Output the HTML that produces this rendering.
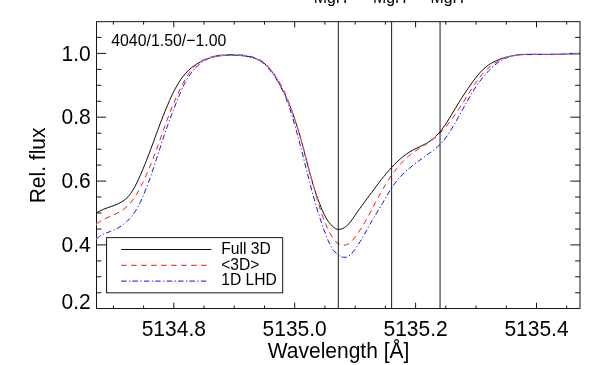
<!DOCTYPE html>
<html><head><meta charset="utf-8"><title>plot</title>
<style>
html,body{margin:0;padding:0;background:#fff;}
body{width:598px;height:365px;overflow:hidden;}
svg{display:block;will-change:transform;}
text{font-family:"Liberation Sans",sans-serif;fill:#000;}
</style></head><body>
<svg width="598" height="365" viewBox="0 0 598 365">
<rect x="0" y="0" width="598" height="365" fill="#fff"/>
<g fill="none" stroke="#000" stroke-width="0.92">
<path d="M173.8 308.4 v-5.7 M173.8 21.7 v5.7M294.7 308.4 v-5.7 M294.7 21.7 v5.7M415.6 308.4 v-5.7 M415.6 21.7 v5.7M536.5 308.4 v-5.7 M536.5 21.7 v5.7M113.4 308.4 v-2.9 M113.4 21.7 v2.9M143.6 308.4 v-2.9 M143.6 21.7 v2.9M204.0 308.4 v-2.9 M204.0 21.7 v2.9M234.2 308.4 v-2.9 M234.2 21.7 v2.9M264.5 308.4 v-2.9 M264.5 21.7 v2.9M324.9 308.4 v-2.9 M324.9 21.7 v2.9M355.2 308.4 v-2.9 M355.2 21.7 v2.9M385.4 308.4 v-2.9 M385.4 21.7 v2.9M445.8 308.4 v-2.9 M445.8 21.7 v2.9M476.1 308.4 v-2.9 M476.1 21.7 v2.9M506.3 308.4 v-2.9 M506.3 21.7 v2.9M566.7 308.4 v-2.9 M566.7 21.7 v2.9M96.5 53.4 h9.7 M580.0 53.4 h-9.7M96.5 117.2 h9.7 M580.0 117.2 h-9.7M96.5 181.1 h9.7 M580.0 181.1 h-9.7M96.5 244.9 h9.7 M580.0 244.9 h-9.7M96.5 37.4 h4.9 M580.0 37.4 h-4.9M96.5 69.4 h4.9 M580.0 69.4 h-4.9M96.5 85.3 h4.9 M580.0 85.3 h-4.9M96.5 101.3 h4.9 M580.0 101.3 h-4.9M96.5 133.2 h4.9 M580.0 133.2 h-4.9M96.5 149.2 h4.9 M580.0 149.2 h-4.9M96.5 165.1 h4.9 M580.0 165.1 h-4.9M96.5 197.0 h4.9 M580.0 197.0 h-4.9M96.5 213.0 h4.9 M580.0 213.0 h-4.9M96.5 229.0 h4.9 M580.0 229.0 h-4.9M96.5 260.9 h4.9 M580.0 260.9 h-4.9M96.5 276.8 h4.9 M580.0 276.8 h-4.9M96.5 292.8 h4.9 M580.0 292.8 h-4.9"/>
<rect x="96.5" y="21.7" width="483.5" height="286.8"/>
</g>
<g fill="none" stroke-width="0.95">
<path stroke="#000" d="M96.5 212.8C97.1 212.5 98.8 211.4 100.0 210.9C101.2 210.3 102.5 209.7 103.7 209.2C104.9 208.7 106.2 208.3 107.4 207.8C108.7 207.4 110.0 206.9 111.2 206.5C112.5 206.0 113.8 205.6 115.0 205.1C116.2 204.6 117.5 204.1 118.7 203.5C119.9 202.9 121.1 202.3 122.2 201.6C123.4 200.9 124.5 200.1 125.5 199.2C126.5 198.4 127.5 197.4 128.3 196.4C129.2 195.4 130.0 194.3 130.8 193.3C131.6 192.2 132.3 191.0 133.0 189.9C133.7 188.7 134.3 187.6 135.0 186.4C135.6 185.2 136.2 184.0 136.8 182.8C137.4 181.6 137.9 180.4 138.5 179.2C139.1 177.9 139.6 176.7 140.2 175.5C140.7 174.3 141.3 173.0 141.8 171.8C142.3 170.6 142.8 169.4 143.4 168.1C143.9 166.9 144.4 165.6 144.9 164.4C145.4 163.2 145.9 161.9 146.4 160.7C146.9 159.4 147.4 158.2 147.8 156.9C148.3 155.7 148.8 154.4 149.3 153.2C149.7 151.9 150.2 150.7 150.7 149.4C151.1 148.2 151.6 146.9 152.1 145.6C152.5 144.4 153.0 143.1 153.5 141.9C153.9 140.6 154.4 139.4 154.8 138.1C155.3 136.8 155.8 135.6 156.2 134.3C156.7 133.1 157.2 131.8 157.6 130.6C158.1 129.3 158.6 128.0 159.0 126.8C159.5 125.5 160.0 124.3 160.4 123.0C160.9 121.8 161.4 120.5 161.9 119.3C162.4 118.0 162.8 116.8 163.3 115.5C163.8 114.3 164.3 113.0 164.8 111.8C165.3 110.6 165.8 109.3 166.3 108.1C166.9 106.8 167.4 105.6 167.9 104.4C168.4 103.1 169.0 101.9 169.5 100.7C170.0 99.5 170.6 98.2 171.1 97.0C171.7 95.8 172.3 94.6 172.8 93.4C173.4 92.2 174.0 91.0 174.6 89.8C175.3 88.6 175.9 87.4 176.6 86.3C177.2 85.1 177.9 83.9 178.6 82.8C179.3 81.7 180.0 80.5 180.8 79.4C181.6 78.3 182.4 77.3 183.2 76.2C184.0 75.2 184.9 74.1 185.8 73.2C186.7 72.2 187.6 71.2 188.6 70.3C189.6 69.4 190.6 68.5 191.6 67.6C192.7 66.8 193.8 66.0 194.9 65.2C196.0 64.5 197.1 63.8 198.2 63.1C199.4 62.4 200.6 61.8 201.8 61.2C203.0 60.6 204.2 60.0 205.4 59.5C206.7 59.0 207.9 58.6 209.2 58.2C210.5 57.7 211.8 57.4 213.1 57.1C214.4 56.8 215.7 56.5 217.0 56.3C218.3 56.0 219.7 55.9 221.0 55.7C222.3 55.6 223.7 55.4 225.0 55.4C226.3 55.3 227.7 55.2 229.0 55.2C230.4 55.2 231.7 55.2 233.0 55.2C234.4 55.2 235.7 55.3 237.1 55.3C238.4 55.4 239.7 55.5 241.1 55.6C242.4 55.7 243.7 55.8 245.1 56.0C246.4 56.2 247.7 56.4 249.0 56.7C250.3 57.0 251.6 57.3 252.9 57.7C254.2 58.1 255.5 58.5 256.7 59.0C257.9 59.5 259.2 60.1 260.3 60.7C261.5 61.4 262.6 62.1 263.7 62.9C264.8 63.7 265.8 64.6 266.7 65.5C267.7 66.5 268.6 67.5 269.5 68.5C270.4 69.5 271.2 70.5 272.0 71.6C272.8 72.7 273.5 73.8 274.3 74.9C275.0 76.0 275.7 77.2 276.4 78.3C277.1 79.5 277.8 80.6 278.4 81.8C279.1 83.0 279.7 84.2 280.3 85.3C281.0 86.5 281.6 87.7 282.2 88.9C282.8 90.1 283.4 91.3 284.0 92.5C284.6 93.7 285.1 94.9 285.7 96.1C286.2 97.4 286.8 98.6 287.3 99.8C287.8 101.0 288.4 102.3 288.9 103.5C289.4 104.8 289.9 106.0 290.4 107.2C290.9 108.5 291.4 109.7 291.8 111.0C292.3 112.2 292.8 113.5 293.2 114.8C293.7 116.0 294.1 117.3 294.5 118.6C295.0 119.8 295.4 121.1 295.8 122.4C296.2 123.6 296.6 124.9 297.0 126.2C297.4 127.5 297.8 128.8 298.2 130.0C298.6 131.3 299.0 132.6 299.4 133.9C299.7 135.2 300.1 136.5 300.5 137.8C300.8 139.0 301.2 140.3 301.5 141.6C301.9 142.9 302.2 144.2 302.6 145.5C302.9 146.8 303.3 148.1 303.6 149.4C304.0 150.7 304.3 152.0 304.6 153.3C305.0 154.6 305.3 155.9 305.6 157.2C306.0 158.5 306.3 159.8 306.6 161.1C307.0 162.4 307.3 163.7 307.7 164.9C308.0 166.2 308.3 167.5 308.7 168.8C309.0 170.1 309.4 171.4 309.7 172.7C310.1 174.0 310.4 175.3 310.8 176.6C311.1 177.9 311.5 179.2 311.9 180.5C312.2 181.7 312.6 183.0 313.0 184.3C313.4 185.6 313.8 186.9 314.2 188.2C314.6 189.4 315.0 190.7 315.4 192.0C315.8 193.3 316.3 194.5 316.7 195.8C317.1 197.1 317.6 198.3 318.0 199.6C318.5 200.8 319.0 202.1 319.5 203.3C319.9 204.6 320.4 205.8 320.9 207.1C321.5 208.3 322.0 209.5 322.5 210.8C323.1 212.0 323.6 213.2 324.2 214.4C324.8 215.6 325.4 216.8 326.1 218.0C326.7 219.1 327.5 220.3 328.2 221.3C329.0 222.4 329.8 223.5 330.8 224.5C331.7 225.5 332.6 226.5 333.6 227.3C334.7 228.1 335.9 229.0 337.1 229.3C338.3 229.6 339.8 229.5 341.0 229.1C342.3 228.8 343.5 228.1 344.7 227.4C345.8 226.7 346.8 225.8 347.8 224.9C348.7 224.0 349.6 222.9 350.4 221.9C351.3 220.9 352.0 219.7 352.8 218.7C353.6 217.6 354.3 216.4 355.1 215.3C355.8 214.2 356.6 213.1 357.3 212.0C358.1 210.9 358.9 209.8 359.7 208.7C360.4 207.6 361.2 206.6 362.0 205.5C362.8 204.4 363.6 203.3 364.4 202.3C365.2 201.2 366.0 200.1 366.8 199.0C367.6 198.0 368.4 196.9 369.2 195.8C370.0 194.7 370.8 193.6 371.6 192.6C372.4 191.5 373.2 190.4 374.0 189.3C374.8 188.2 375.6 187.2 376.4 186.1C377.2 185.0 378.0 184.0 378.8 182.9C379.6 181.8 380.4 180.8 381.2 179.7C382.1 178.7 382.9 177.6 383.8 176.6C384.6 175.5 385.4 174.5 386.3 173.5C387.2 172.4 388.0 171.4 388.9 170.4C389.8 169.4 390.7 168.4 391.6 167.4C392.5 166.4 393.4 165.5 394.4 164.5C395.3 163.6 396.2 162.6 397.2 161.7C398.2 160.8 399.2 159.9 400.2 159.0C401.2 158.1 402.2 157.2 403.3 156.4C404.3 155.6 405.4 154.8 406.5 154.0C407.6 153.2 408.7 152.5 409.9 151.8C411.0 151.1 412.2 150.5 413.4 149.8C414.5 149.2 415.8 148.6 417.0 148.0C418.2 147.5 419.4 146.9 420.6 146.3C421.8 145.7 423.0 145.2 424.2 144.5C425.4 143.9 426.6 143.3 427.7 142.6C428.8 141.9 430.0 141.1 431.0 140.4C432.1 139.6 433.2 138.7 434.2 137.8C435.2 136.9 436.1 136.0 437.1 135.0C438.0 134.1 438.9 133.1 439.7 132.1C440.6 131.0 441.4 130.0 442.3 128.9C443.1 127.9 443.9 126.8 444.6 125.7C445.4 124.6 446.1 123.5 446.9 122.3C447.6 121.2 448.3 120.1 449.0 118.9C449.7 117.8 450.4 116.6 451.1 115.5C451.8 114.3 452.4 113.2 453.1 112.0C453.8 110.9 454.5 109.7 455.2 108.6C455.9 107.4 456.6 106.3 457.3 105.1C457.9 104.0 458.7 102.9 459.4 101.7C460.1 100.6 460.8 99.4 461.5 98.3C462.2 97.2 462.9 96.1 463.7 94.9C464.4 93.8 465.1 92.7 465.9 91.6C466.6 90.5 467.4 89.4 468.2 88.3C468.9 87.2 469.7 86.1 470.5 85.0C471.2 83.9 472.0 82.8 472.8 81.7C473.6 80.6 474.4 79.5 475.2 78.5C476.0 77.4 476.8 76.3 477.7 75.3C478.5 74.3 479.4 73.3 480.3 72.3C481.2 71.3 482.1 70.3 483.1 69.4C484.1 68.5 485.1 67.6 486.2 66.8C487.2 66.0 488.3 65.2 489.4 64.4C490.5 63.7 491.7 63.0 492.9 62.4C494.0 61.7 495.2 61.1 496.5 60.6C497.7 60.0 498.9 59.5 500.2 59.1C501.4 58.6 502.7 58.2 504.0 57.8C505.3 57.4 506.6 57.0 507.9 56.7C509.2 56.4 510.5 56.1 511.8 55.9C513.1 55.6 514.4 55.4 515.8 55.3C517.1 55.1 518.4 54.9 519.7 54.8C521.1 54.7 522.4 54.6 523.8 54.5C525.1 54.5 526.4 54.4 527.8 54.4C529.1 54.3 530.4 54.3 531.8 54.3C533.1 54.3 534.5 54.3 535.8 54.3C537.1 54.3 538.5 54.3 539.8 54.4C541.2 54.4 542.5 54.4 543.8 54.4C545.2 54.4 546.5 54.4 547.9 54.4C549.2 54.4 550.5 54.4 551.9 54.4C553.2 54.4 554.6 54.4 555.9 54.3C557.2 54.3 558.6 54.3 559.9 54.2C561.3 54.2 562.6 54.2 563.9 54.1C565.3 54.1 566.6 54.0 567.9 54.0C569.3 54.0 570.6 53.9 572.0 53.9C573.3 53.9 574.6 53.8 576.0 53.8C577.3 53.8 579.3 53.8 580.0 53.8"/>
<g stroke-dasharray="5.5 4.5">
<path stroke="#fff" d="M96.5 224.1C97.0 223.7 98.6 222.4 99.7 221.7C100.8 221.0 102.0 220.3 103.2 219.7C104.3 219.0 105.5 218.5 106.7 217.9C108.0 217.3 109.2 216.8 110.4 216.2C111.6 215.7 112.8 215.2 114.1 214.6C115.3 214.1 116.5 213.5 117.7 212.9C118.9 212.3 120.1 211.7 121.2 211.0C122.3 210.3 123.4 209.5 124.5 208.7C125.6 207.9 126.6 207.0 127.5 206.1C128.5 205.2 129.4 204.2 130.3 203.2C131.1 202.2 132.0 201.1 132.7 200.0C133.5 199.0 134.3 197.8 135.0 196.7C135.7 195.6 136.4 194.5 137.1 193.3C137.8 192.2 138.4 191.0 139.1 189.8C139.7 188.6 140.3 187.5 140.9 186.3C141.5 185.1 142.1 183.9 142.7 182.7C143.3 181.5 143.9 180.3 144.5 179.1C145.0 177.9 145.6 176.7 146.1 175.4C146.7 174.2 147.2 173.0 147.8 171.8C148.3 170.5 148.8 169.3 149.3 168.1C149.8 166.9 150.3 165.6 150.8 164.4C151.3 163.1 151.8 161.9 152.3 160.6C152.8 159.4 153.3 158.2 153.7 156.9C154.2 155.7 154.7 154.4 155.1 153.2C155.6 151.9 156.1 150.6 156.5 149.4C157.0 148.1 157.4 146.9 157.9 145.6C158.3 144.4 158.8 143.1 159.2 141.9C159.7 140.6 160.1 139.3 160.6 138.1C161.0 136.8 161.5 135.6 161.9 134.3C162.4 133.0 162.8 131.8 163.2 130.5C163.7 129.3 164.1 128.0 164.6 126.8C165.1 125.5 165.5 124.2 166.0 123.0C166.4 121.7 166.9 120.5 167.4 119.2C167.8 118.0 168.3 116.7 168.8 115.5C169.2 114.2 169.7 113.0 170.2 111.7C170.7 110.5 171.2 109.3 171.7 108.0C172.2 106.8 172.7 105.5 173.2 104.3C173.7 103.1 174.2 101.8 174.8 100.6C175.3 99.4 175.8 98.2 176.4 97.0C176.9 95.7 177.5 94.5 178.1 93.3C178.6 92.1 179.2 90.9 179.8 89.7C180.4 88.5 181.0 87.3 181.6 86.1C182.2 84.9 182.8 83.7 183.4 82.6C184.1 81.4 184.7 80.2 185.4 79.1C186.0 77.9 186.7 76.7 187.4 75.6C188.1 74.5 188.8 73.3 189.6 72.3C190.4 71.2 191.2 70.1 192.0 69.1C192.9 68.0 193.7 67.0 194.7 66.1C195.6 65.1 196.6 64.2 197.6 63.4C198.7 62.5 199.8 61.8 200.9 61.1C202.1 60.4 203.3 59.8 204.5 59.3C205.7 58.7 207.0 58.2 208.2 57.8C209.5 57.4 210.8 57.1 212.1 56.7C213.4 56.4 214.7 56.2 216.0 55.9C217.3 55.7 218.6 55.5 220.0 55.3C221.3 55.2 222.6 55.1 224.0 55.0C225.3 54.8 226.6 54.8 228.0 54.7C229.3 54.6 230.6 54.6 232.0 54.6C233.3 54.6 234.6 54.6 236.0 54.6C237.3 54.7 238.6 54.8 240.0 54.9C241.3 55.0 242.6 55.1 243.9 55.3C245.3 55.5 246.6 55.7 247.9 56.0C249.2 56.2 250.5 56.5 251.8 56.8C253.1 57.2 254.4 57.5 255.7 58.0C256.9 58.4 258.2 58.9 259.4 59.5C260.5 60.1 261.7 60.8 262.8 61.5C263.9 62.3 264.9 63.2 265.9 64.1C266.8 65.0 267.7 66.0 268.6 67.0C269.5 68.0 270.4 69.0 271.2 70.1C272.1 71.1 272.9 72.2 273.7 73.2C274.4 74.3 275.2 75.4 275.9 76.5C276.7 77.6 277.4 78.8 278.1 79.9C278.8 81.0 279.5 82.2 280.1 83.4C280.8 84.5 281.4 85.7 282.0 86.9C282.6 88.1 283.2 89.3 283.8 90.5C284.4 91.7 284.9 92.9 285.5 94.1C286.0 95.3 286.5 96.6 287.0 97.8C287.6 99.0 288.1 100.3 288.5 101.5C289.0 102.8 289.5 104.0 290.0 105.3C290.4 106.5 290.9 107.8 291.3 109.0C291.8 110.3 292.2 111.6 292.7 112.8C293.1 114.1 293.5 115.3 294.0 116.6C294.4 117.9 294.8 119.1 295.2 120.4C295.6 121.7 296.0 123.0 296.4 124.2C296.8 125.5 297.2 126.8 297.6 128.1C298.0 129.3 298.4 130.6 298.8 131.9C299.2 133.2 299.5 134.5 299.9 135.7C300.3 137.0 300.7 138.3 301.0 139.6C301.4 140.9 301.8 142.1 302.1 143.4C302.5 144.7 302.9 146.0 303.2 147.3C303.6 148.6 303.9 149.9 304.3 151.2C304.6 152.4 305.0 153.7 305.3 155.0C305.7 156.3 306.0 157.6 306.4 158.9C306.7 160.2 307.0 161.5 307.4 162.8C307.7 164.1 308.1 165.3 308.4 166.6C308.8 167.9 309.1 169.2 309.4 170.5C309.8 171.8 310.1 173.1 310.5 174.4C310.8 175.7 311.1 177.0 311.5 178.3C311.8 179.5 312.2 180.8 312.5 182.1C312.9 183.4 313.2 184.7 313.6 186.0C313.9 187.3 314.3 188.6 314.6 189.9C315.0 191.2 315.3 192.4 315.7 193.7C316.0 195.0 316.4 196.3 316.7 197.6C317.1 198.9 317.5 200.2 317.8 201.4C318.2 202.7 318.6 204.0 319.0 205.3C319.4 206.6 319.8 207.8 320.2 209.1C320.6 210.4 321.0 211.7 321.4 212.9C321.8 214.2 322.3 215.4 322.7 216.7C323.2 218.0 323.7 219.2 324.2 220.4C324.6 221.7 325.1 222.9 325.7 224.2C326.2 225.4 326.7 226.6 327.3 227.8C327.9 229.0 328.5 230.2 329.1 231.4C329.7 232.6 330.3 233.8 331.0 234.9C331.6 236.1 332.3 237.3 333.0 238.4C333.8 239.5 334.6 240.6 335.5 241.5C336.4 242.4 337.5 243.3 338.7 243.9C339.8 244.5 341.2 245.0 342.5 245.1C343.8 245.3 345.2 245.2 346.4 244.8C347.7 244.4 348.8 243.6 349.9 242.8C351.0 242.0 351.9 241.0 352.8 240.0C353.7 239.0 354.4 237.9 355.3 236.9C356.1 235.8 356.8 234.7 357.6 233.6C358.3 232.5 359.1 231.4 359.8 230.3C360.5 229.2 361.3 228.0 362.0 226.9C362.7 225.8 363.4 224.6 364.1 223.5C364.7 222.3 365.4 221.2 366.1 220.0C366.7 218.9 367.4 217.7 368.0 216.5C368.7 215.4 369.3 214.2 370.0 213.0C370.6 211.8 371.2 210.7 371.9 209.5C372.5 208.3 373.1 207.1 373.7 205.9C374.4 204.8 375.0 203.6 375.6 202.4C376.2 201.2 376.8 200.0 377.5 198.9C378.1 197.7 378.7 196.5 379.4 195.3C380.0 194.2 380.7 193.0 381.3 191.8C382.0 190.7 382.6 189.5 383.3 188.3C384.0 187.2 384.6 186.0 385.3 184.9C386.0 183.8 386.7 182.6 387.4 181.5C388.2 180.4 388.9 179.2 389.6 178.1C390.4 177.0 391.1 175.9 391.9 174.8C392.7 173.7 393.5 172.7 394.3 171.6C395.1 170.5 395.9 169.5 396.7 168.4C397.6 167.4 398.4 166.4 399.3 165.4C400.2 164.4 401.1 163.4 402.0 162.4C402.9 161.4 403.8 160.5 404.8 159.5C405.7 158.6 406.7 157.7 407.7 156.8C408.7 155.9 409.8 155.1 410.8 154.3C411.9 153.4 412.9 152.6 414.0 151.9C415.1 151.1 416.2 150.4 417.4 149.7C418.5 148.9 419.6 148.3 420.8 147.6C421.9 146.9 423.1 146.2 424.2 145.5C425.3 144.8 426.5 144.1 427.6 143.3C428.7 142.6 429.8 141.8 430.9 141.0C431.9 140.2 433.0 139.4 434.0 138.6C435.0 137.7 436.0 136.8 437.0 135.9C438.0 135.0 439.0 134.1 439.9 133.1C440.9 132.2 441.8 131.2 442.7 130.3C443.6 129.3 444.5 128.3 445.4 127.3C446.2 126.3 447.1 125.2 447.9 124.2C448.8 123.1 449.6 122.1 450.4 121.0C451.2 120.0 452.0 118.9 452.8 117.8C453.6 116.7 454.4 115.7 455.1 114.6C455.9 113.5 456.6 112.4 457.4 111.2C458.1 110.1 458.9 109.0 459.6 107.9C460.3 106.8 461.0 105.7 461.8 104.5C462.5 103.4 463.2 102.3 463.9 101.2C464.6 100.0 465.3 98.9 466.1 97.8C466.8 96.6 467.5 95.5 468.2 94.4C468.9 93.3 469.6 92.1 470.3 91.0C471.1 89.9 471.8 88.8 472.5 87.6C473.3 86.5 474.0 85.4 474.7 84.3C475.5 83.2 476.2 82.1 477.0 81.0C477.8 79.9 478.6 78.8 479.4 77.8C480.2 76.7 481.0 75.7 481.9 74.6C482.7 73.6 483.6 72.6 484.5 71.6C485.5 70.7 486.4 69.7 487.4 68.8C488.4 67.9 489.4 67.1 490.5 66.3C491.5 65.4 492.6 64.7 493.7 63.9C494.8 63.2 496.0 62.5 497.1 61.8C498.3 61.2 499.5 60.6 500.7 60.0C501.9 59.4 503.1 58.9 504.4 58.4C505.6 58.0 506.9 57.5 508.2 57.1C509.4 56.7 510.7 56.4 512.0 56.1C513.3 55.8 514.6 55.5 516.0 55.3C517.3 55.1 518.6 54.9 519.9 54.8C521.3 54.6 522.6 54.5 523.9 54.5C525.3 54.4 526.6 54.3 527.9 54.3C529.3 54.3 530.6 54.2 531.9 54.2C533.3 54.2 534.6 54.3 535.9 54.3C537.3 54.3 538.6 54.3 539.9 54.4C541.3 54.4 542.6 54.4 544.0 54.4C545.3 54.5 546.6 54.5 548.0 54.5C549.3 54.5 550.6 54.5 552.0 54.5C553.3 54.4 554.6 54.4 556.0 54.4C557.3 54.3 558.6 54.3 560.0 54.2C561.3 54.2 562.6 54.2 564.0 54.1C565.3 54.1 566.6 54.0 568.0 54.0C569.3 53.9 570.7 53.9 572.0 53.9C573.3 53.8 574.7 53.8 576.0 53.8C577.3 53.8 579.3 53.8 580.0 53.8"/><path stroke="#fff" d="M96.5 224.1C97.0 223.7 98.6 222.4 99.7 221.7C100.8 221.0 102.0 220.3 103.2 219.7C104.3 219.0 105.5 218.5 106.7 217.9C108.0 217.3 109.2 216.8 110.4 216.2C111.6 215.7 112.8 215.2 114.1 214.6C115.3 214.1 116.5 213.5 117.7 212.9C118.9 212.3 120.1 211.7 121.2 211.0C122.3 210.3 123.4 209.5 124.5 208.7C125.6 207.9 126.6 207.0 127.5 206.1C128.5 205.2 129.4 204.2 130.3 203.2C131.1 202.2 132.0 201.1 132.7 200.0C133.5 199.0 134.3 197.8 135.0 196.7C135.7 195.6 136.4 194.5 137.1 193.3C137.8 192.2 138.4 191.0 139.1 189.8C139.7 188.6 140.3 187.5 140.9 186.3C141.5 185.1 142.1 183.9 142.7 182.7C143.3 181.5 143.9 180.3 144.5 179.1C145.0 177.9 145.6 176.7 146.1 175.4C146.7 174.2 147.2 173.0 147.8 171.8C148.3 170.5 148.8 169.3 149.3 168.1C149.8 166.9 150.3 165.6 150.8 164.4C151.3 163.1 151.8 161.9 152.3 160.6C152.8 159.4 153.3 158.2 153.7 156.9C154.2 155.7 154.7 154.4 155.1 153.2C155.6 151.9 156.1 150.6 156.5 149.4C157.0 148.1 157.4 146.9 157.9 145.6C158.3 144.4 158.8 143.1 159.2 141.9C159.7 140.6 160.1 139.3 160.6 138.1C161.0 136.8 161.5 135.6 161.9 134.3C162.4 133.0 162.8 131.8 163.2 130.5C163.7 129.3 164.1 128.0 164.6 126.8C165.1 125.5 165.5 124.2 166.0 123.0C166.4 121.7 166.9 120.5 167.4 119.2C167.8 118.0 168.3 116.7 168.8 115.5C169.2 114.2 169.7 113.0 170.2 111.7C170.7 110.5 171.2 109.3 171.7 108.0C172.2 106.8 172.7 105.5 173.2 104.3C173.7 103.1 174.2 101.8 174.8 100.6C175.3 99.4 175.8 98.2 176.4 97.0C176.9 95.7 177.5 94.5 178.1 93.3C178.6 92.1 179.2 90.9 179.8 89.7C180.4 88.5 181.0 87.3 181.6 86.1C182.2 84.9 182.8 83.7 183.4 82.6C184.1 81.4 184.7 80.2 185.4 79.1C186.0 77.9 186.7 76.7 187.4 75.6C188.1 74.5 188.8 73.3 189.6 72.3C190.4 71.2 191.2 70.1 192.0 69.1C192.9 68.0 193.7 67.0 194.7 66.1C195.6 65.1 196.6 64.2 197.6 63.4C198.7 62.5 199.8 61.8 200.9 61.1C202.1 60.4 203.3 59.8 204.5 59.3C205.7 58.7 207.0 58.2 208.2 57.8C209.5 57.4 210.8 57.1 212.1 56.7C213.4 56.4 214.7 56.2 216.0 55.9C217.3 55.7 218.6 55.5 220.0 55.3C221.3 55.2 222.6 55.1 224.0 55.0C225.3 54.8 226.6 54.8 228.0 54.7C229.3 54.6 230.6 54.6 232.0 54.6C233.3 54.6 234.6 54.6 236.0 54.6C237.3 54.7 238.6 54.8 240.0 54.9C241.3 55.0 242.6 55.1 243.9 55.3C245.3 55.5 246.6 55.7 247.9 56.0C249.2 56.2 250.5 56.5 251.8 56.8C253.1 57.2 254.4 57.5 255.7 58.0C256.9 58.4 258.2 58.9 259.4 59.5C260.5 60.1 261.7 60.8 262.8 61.5C263.9 62.3 264.9 63.2 265.9 64.1C266.8 65.0 267.7 66.0 268.6 67.0C269.5 68.0 270.4 69.0 271.2 70.1C272.1 71.1 272.9 72.2 273.7 73.2C274.4 74.3 275.2 75.4 275.9 76.5C276.7 77.6 277.4 78.8 278.1 79.9C278.8 81.0 279.5 82.2 280.1 83.4C280.8 84.5 281.4 85.7 282.0 86.9C282.6 88.1 283.2 89.3 283.8 90.5C284.4 91.7 284.9 92.9 285.5 94.1C286.0 95.3 286.5 96.6 287.0 97.8C287.6 99.0 288.1 100.3 288.5 101.5C289.0 102.8 289.5 104.0 290.0 105.3C290.4 106.5 290.9 107.8 291.3 109.0C291.8 110.3 292.2 111.6 292.7 112.8C293.1 114.1 293.5 115.3 294.0 116.6C294.4 117.9 294.8 119.1 295.2 120.4C295.6 121.7 296.0 123.0 296.4 124.2C296.8 125.5 297.2 126.8 297.6 128.1C298.0 129.3 298.4 130.6 298.8 131.9C299.2 133.2 299.5 134.5 299.9 135.7C300.3 137.0 300.7 138.3 301.0 139.6C301.4 140.9 301.8 142.1 302.1 143.4C302.5 144.7 302.9 146.0 303.2 147.3C303.6 148.6 303.9 149.9 304.3 151.2C304.6 152.4 305.0 153.7 305.3 155.0C305.7 156.3 306.0 157.6 306.4 158.9C306.7 160.2 307.0 161.5 307.4 162.8C307.7 164.1 308.1 165.3 308.4 166.6C308.8 167.9 309.1 169.2 309.4 170.5C309.8 171.8 310.1 173.1 310.5 174.4C310.8 175.7 311.1 177.0 311.5 178.3C311.8 179.5 312.2 180.8 312.5 182.1C312.9 183.4 313.2 184.7 313.6 186.0C313.9 187.3 314.3 188.6 314.6 189.9C315.0 191.2 315.3 192.4 315.7 193.7C316.0 195.0 316.4 196.3 316.7 197.6C317.1 198.9 317.5 200.2 317.8 201.4C318.2 202.7 318.6 204.0 319.0 205.3C319.4 206.6 319.8 207.8 320.2 209.1C320.6 210.4 321.0 211.7 321.4 212.9C321.8 214.2 322.3 215.4 322.7 216.7C323.2 218.0 323.7 219.2 324.2 220.4C324.6 221.7 325.1 222.9 325.7 224.2C326.2 225.4 326.7 226.6 327.3 227.8C327.9 229.0 328.5 230.2 329.1 231.4C329.7 232.6 330.3 233.8 331.0 234.9C331.6 236.1 332.3 237.3 333.0 238.4C333.8 239.5 334.6 240.6 335.5 241.5C336.4 242.4 337.5 243.3 338.7 243.9C339.8 244.5 341.2 245.0 342.5 245.1C343.8 245.3 345.2 245.2 346.4 244.8C347.7 244.4 348.8 243.6 349.9 242.8C351.0 242.0 351.9 241.0 352.8 240.0C353.7 239.0 354.4 237.9 355.3 236.9C356.1 235.8 356.8 234.7 357.6 233.6C358.3 232.5 359.1 231.4 359.8 230.3C360.5 229.2 361.3 228.0 362.0 226.9C362.7 225.8 363.4 224.6 364.1 223.5C364.7 222.3 365.4 221.2 366.1 220.0C366.7 218.9 367.4 217.7 368.0 216.5C368.7 215.4 369.3 214.2 370.0 213.0C370.6 211.8 371.2 210.7 371.9 209.5C372.5 208.3 373.1 207.1 373.7 205.9C374.4 204.8 375.0 203.6 375.6 202.4C376.2 201.2 376.8 200.0 377.5 198.9C378.1 197.7 378.7 196.5 379.4 195.3C380.0 194.2 380.7 193.0 381.3 191.8C382.0 190.7 382.6 189.5 383.3 188.3C384.0 187.2 384.6 186.0 385.3 184.9C386.0 183.8 386.7 182.6 387.4 181.5C388.2 180.4 388.9 179.2 389.6 178.1C390.4 177.0 391.1 175.9 391.9 174.8C392.7 173.7 393.5 172.7 394.3 171.6C395.1 170.5 395.9 169.5 396.7 168.4C397.6 167.4 398.4 166.4 399.3 165.4C400.2 164.4 401.1 163.4 402.0 162.4C402.9 161.4 403.8 160.5 404.8 159.5C405.7 158.6 406.7 157.7 407.7 156.8C408.7 155.9 409.8 155.1 410.8 154.3C411.9 153.4 412.9 152.6 414.0 151.9C415.1 151.1 416.2 150.4 417.4 149.7C418.5 148.9 419.6 148.3 420.8 147.6C421.9 146.9 423.1 146.2 424.2 145.5C425.3 144.8 426.5 144.1 427.6 143.3C428.7 142.6 429.8 141.8 430.9 141.0C431.9 140.2 433.0 139.4 434.0 138.6C435.0 137.7 436.0 136.8 437.0 135.9C438.0 135.0 439.0 134.1 439.9 133.1C440.9 132.2 441.8 131.2 442.7 130.3C443.6 129.3 444.5 128.3 445.4 127.3C446.2 126.3 447.1 125.2 447.9 124.2C448.8 123.1 449.6 122.1 450.4 121.0C451.2 120.0 452.0 118.9 452.8 117.8C453.6 116.7 454.4 115.7 455.1 114.6C455.9 113.5 456.6 112.4 457.4 111.2C458.1 110.1 458.9 109.0 459.6 107.9C460.3 106.8 461.0 105.7 461.8 104.5C462.5 103.4 463.2 102.3 463.9 101.2C464.6 100.0 465.3 98.9 466.1 97.8C466.8 96.6 467.5 95.5 468.2 94.4C468.9 93.3 469.6 92.1 470.3 91.0C471.1 89.9 471.8 88.8 472.5 87.6C473.3 86.5 474.0 85.4 474.7 84.3C475.5 83.2 476.2 82.1 477.0 81.0C477.8 79.9 478.6 78.8 479.4 77.8C480.2 76.7 481.0 75.7 481.9 74.6C482.7 73.6 483.6 72.6 484.5 71.6C485.5 70.7 486.4 69.7 487.4 68.8C488.4 67.9 489.4 67.1 490.5 66.3C491.5 65.4 492.6 64.7 493.7 63.9C494.8 63.2 496.0 62.5 497.1 61.8C498.3 61.2 499.5 60.6 500.7 60.0C501.9 59.4 503.1 58.9 504.4 58.4C505.6 58.0 506.9 57.5 508.2 57.1C509.4 56.7 510.7 56.4 512.0 56.1C513.3 55.8 514.6 55.5 516.0 55.3C517.3 55.1 518.6 54.9 519.9 54.8C521.3 54.6 522.6 54.5 523.9 54.5C525.3 54.4 526.6 54.3 527.9 54.3C529.3 54.3 530.6 54.2 531.9 54.2C533.3 54.2 534.6 54.3 535.9 54.3C537.3 54.3 538.6 54.3 539.9 54.4C541.3 54.4 542.6 54.4 544.0 54.4C545.3 54.5 546.6 54.5 548.0 54.5C549.3 54.5 550.6 54.5 552.0 54.5C553.3 54.4 554.6 54.4 556.0 54.4C557.3 54.3 558.6 54.3 560.0 54.2C561.3 54.2 562.6 54.2 564.0 54.1C565.3 54.1 566.6 54.0 568.0 54.0C569.3 53.9 570.7 53.9 572.0 53.9C573.3 53.8 574.7 53.8 576.0 53.8C577.3 53.8 579.3 53.8 580.0 53.8"/><path stroke="#f00" d="M96.5 224.1C97.0 223.7 98.6 222.4 99.7 221.7C100.8 221.0 102.0 220.3 103.2 219.7C104.3 219.0 105.5 218.5 106.7 217.9C108.0 217.3 109.2 216.8 110.4 216.2C111.6 215.7 112.8 215.2 114.1 214.6C115.3 214.1 116.5 213.5 117.7 212.9C118.9 212.3 120.1 211.7 121.2 211.0C122.3 210.3 123.4 209.5 124.5 208.7C125.6 207.9 126.6 207.0 127.5 206.1C128.5 205.2 129.4 204.2 130.3 203.2C131.1 202.2 132.0 201.1 132.7 200.0C133.5 199.0 134.3 197.8 135.0 196.7C135.7 195.6 136.4 194.5 137.1 193.3C137.8 192.2 138.4 191.0 139.1 189.8C139.7 188.6 140.3 187.5 140.9 186.3C141.5 185.1 142.1 183.9 142.7 182.7C143.3 181.5 143.9 180.3 144.5 179.1C145.0 177.9 145.6 176.7 146.1 175.4C146.7 174.2 147.2 173.0 147.8 171.8C148.3 170.5 148.8 169.3 149.3 168.1C149.8 166.9 150.3 165.6 150.8 164.4C151.3 163.1 151.8 161.9 152.3 160.6C152.8 159.4 153.3 158.2 153.7 156.9C154.2 155.7 154.7 154.4 155.1 153.2C155.6 151.9 156.1 150.6 156.5 149.4C157.0 148.1 157.4 146.9 157.9 145.6C158.3 144.4 158.8 143.1 159.2 141.9C159.7 140.6 160.1 139.3 160.6 138.1C161.0 136.8 161.5 135.6 161.9 134.3C162.4 133.0 162.8 131.8 163.2 130.5C163.7 129.3 164.1 128.0 164.6 126.8C165.1 125.5 165.5 124.2 166.0 123.0C166.4 121.7 166.9 120.5 167.4 119.2C167.8 118.0 168.3 116.7 168.8 115.5C169.2 114.2 169.7 113.0 170.2 111.7C170.7 110.5 171.2 109.3 171.7 108.0C172.2 106.8 172.7 105.5 173.2 104.3C173.7 103.1 174.2 101.8 174.8 100.6C175.3 99.4 175.8 98.2 176.4 97.0C176.9 95.7 177.5 94.5 178.1 93.3C178.6 92.1 179.2 90.9 179.8 89.7C180.4 88.5 181.0 87.3 181.6 86.1C182.2 84.9 182.8 83.7 183.4 82.6C184.1 81.4 184.7 80.2 185.4 79.1C186.0 77.9 186.7 76.7 187.4 75.6C188.1 74.5 188.8 73.3 189.6 72.3C190.4 71.2 191.2 70.1 192.0 69.1C192.9 68.0 193.7 67.0 194.7 66.1C195.6 65.1 196.6 64.2 197.6 63.4C198.7 62.5 199.8 61.8 200.9 61.1C202.1 60.4 203.3 59.8 204.5 59.3C205.7 58.7 207.0 58.2 208.2 57.8C209.5 57.4 210.8 57.1 212.1 56.7C213.4 56.4 214.7 56.2 216.0 55.9C217.3 55.7 218.6 55.5 220.0 55.3C221.3 55.2 222.6 55.1 224.0 55.0C225.3 54.8 226.6 54.8 228.0 54.7C229.3 54.6 230.6 54.6 232.0 54.6C233.3 54.6 234.6 54.6 236.0 54.6C237.3 54.7 238.6 54.8 240.0 54.9C241.3 55.0 242.6 55.1 243.9 55.3C245.3 55.5 246.6 55.7 247.9 56.0C249.2 56.2 250.5 56.5 251.8 56.8C253.1 57.2 254.4 57.5 255.7 58.0C256.9 58.4 258.2 58.9 259.4 59.5C260.5 60.1 261.7 60.8 262.8 61.5C263.9 62.3 264.9 63.2 265.9 64.1C266.8 65.0 267.7 66.0 268.6 67.0C269.5 68.0 270.4 69.0 271.2 70.1C272.1 71.1 272.9 72.2 273.7 73.2C274.4 74.3 275.2 75.4 275.9 76.5C276.7 77.6 277.4 78.8 278.1 79.9C278.8 81.0 279.5 82.2 280.1 83.4C280.8 84.5 281.4 85.7 282.0 86.9C282.6 88.1 283.2 89.3 283.8 90.5C284.4 91.7 284.9 92.9 285.5 94.1C286.0 95.3 286.5 96.6 287.0 97.8C287.6 99.0 288.1 100.3 288.5 101.5C289.0 102.8 289.5 104.0 290.0 105.3C290.4 106.5 290.9 107.8 291.3 109.0C291.8 110.3 292.2 111.6 292.7 112.8C293.1 114.1 293.5 115.3 294.0 116.6C294.4 117.9 294.8 119.1 295.2 120.4C295.6 121.7 296.0 123.0 296.4 124.2C296.8 125.5 297.2 126.8 297.6 128.1C298.0 129.3 298.4 130.6 298.8 131.9C299.2 133.2 299.5 134.5 299.9 135.7C300.3 137.0 300.7 138.3 301.0 139.6C301.4 140.9 301.8 142.1 302.1 143.4C302.5 144.7 302.9 146.0 303.2 147.3C303.6 148.6 303.9 149.9 304.3 151.2C304.6 152.4 305.0 153.7 305.3 155.0C305.7 156.3 306.0 157.6 306.4 158.9C306.7 160.2 307.0 161.5 307.4 162.8C307.7 164.1 308.1 165.3 308.4 166.6C308.8 167.9 309.1 169.2 309.4 170.5C309.8 171.8 310.1 173.1 310.5 174.4C310.8 175.7 311.1 177.0 311.5 178.3C311.8 179.5 312.2 180.8 312.5 182.1C312.9 183.4 313.2 184.7 313.6 186.0C313.9 187.3 314.3 188.6 314.6 189.9C315.0 191.2 315.3 192.4 315.7 193.7C316.0 195.0 316.4 196.3 316.7 197.6C317.1 198.9 317.5 200.2 317.8 201.4C318.2 202.7 318.6 204.0 319.0 205.3C319.4 206.6 319.8 207.8 320.2 209.1C320.6 210.4 321.0 211.7 321.4 212.9C321.8 214.2 322.3 215.4 322.7 216.7C323.2 218.0 323.7 219.2 324.2 220.4C324.6 221.7 325.1 222.9 325.7 224.2C326.2 225.4 326.7 226.6 327.3 227.8C327.9 229.0 328.5 230.2 329.1 231.4C329.7 232.6 330.3 233.8 331.0 234.9C331.6 236.1 332.3 237.3 333.0 238.4C333.8 239.5 334.6 240.6 335.5 241.5C336.4 242.4 337.5 243.3 338.7 243.9C339.8 244.5 341.2 245.0 342.5 245.1C343.8 245.3 345.2 245.2 346.4 244.8C347.7 244.4 348.8 243.6 349.9 242.8C351.0 242.0 351.9 241.0 352.8 240.0C353.7 239.0 354.4 237.9 355.3 236.9C356.1 235.8 356.8 234.7 357.6 233.6C358.3 232.5 359.1 231.4 359.8 230.3C360.5 229.2 361.3 228.0 362.0 226.9C362.7 225.8 363.4 224.6 364.1 223.5C364.7 222.3 365.4 221.2 366.1 220.0C366.7 218.9 367.4 217.7 368.0 216.5C368.7 215.4 369.3 214.2 370.0 213.0C370.6 211.8 371.2 210.7 371.9 209.5C372.5 208.3 373.1 207.1 373.7 205.9C374.4 204.8 375.0 203.6 375.6 202.4C376.2 201.2 376.8 200.0 377.5 198.9C378.1 197.7 378.7 196.5 379.4 195.3C380.0 194.2 380.7 193.0 381.3 191.8C382.0 190.7 382.6 189.5 383.3 188.3C384.0 187.2 384.6 186.0 385.3 184.9C386.0 183.8 386.7 182.6 387.4 181.5C388.2 180.4 388.9 179.2 389.6 178.1C390.4 177.0 391.1 175.9 391.9 174.8C392.7 173.7 393.5 172.7 394.3 171.6C395.1 170.5 395.9 169.5 396.7 168.4C397.6 167.4 398.4 166.4 399.3 165.4C400.2 164.4 401.1 163.4 402.0 162.4C402.9 161.4 403.8 160.5 404.8 159.5C405.7 158.6 406.7 157.7 407.7 156.8C408.7 155.9 409.8 155.1 410.8 154.3C411.9 153.4 412.9 152.6 414.0 151.9C415.1 151.1 416.2 150.4 417.4 149.7C418.5 148.9 419.6 148.3 420.8 147.6C421.9 146.9 423.1 146.2 424.2 145.5C425.3 144.8 426.5 144.1 427.6 143.3C428.7 142.6 429.8 141.8 430.9 141.0C431.9 140.2 433.0 139.4 434.0 138.6C435.0 137.7 436.0 136.8 437.0 135.9C438.0 135.0 439.0 134.1 439.9 133.1C440.9 132.2 441.8 131.2 442.7 130.3C443.6 129.3 444.5 128.3 445.4 127.3C446.2 126.3 447.1 125.2 447.9 124.2C448.8 123.1 449.6 122.1 450.4 121.0C451.2 120.0 452.0 118.9 452.8 117.8C453.6 116.7 454.4 115.7 455.1 114.6C455.9 113.5 456.6 112.4 457.4 111.2C458.1 110.1 458.9 109.0 459.6 107.9C460.3 106.8 461.0 105.7 461.8 104.5C462.5 103.4 463.2 102.3 463.9 101.2C464.6 100.0 465.3 98.9 466.1 97.8C466.8 96.6 467.5 95.5 468.2 94.4C468.9 93.3 469.6 92.1 470.3 91.0C471.1 89.9 471.8 88.8 472.5 87.6C473.3 86.5 474.0 85.4 474.7 84.3C475.5 83.2 476.2 82.1 477.0 81.0C477.8 79.9 478.6 78.8 479.4 77.8C480.2 76.7 481.0 75.7 481.9 74.6C482.7 73.6 483.6 72.6 484.5 71.6C485.5 70.7 486.4 69.7 487.4 68.8C488.4 67.9 489.4 67.1 490.5 66.3C491.5 65.4 492.6 64.7 493.7 63.9C494.8 63.2 496.0 62.5 497.1 61.8C498.3 61.2 499.5 60.6 500.7 60.0C501.9 59.4 503.1 58.9 504.4 58.4C505.6 58.0 506.9 57.5 508.2 57.1C509.4 56.7 510.7 56.4 512.0 56.1C513.3 55.8 514.6 55.5 516.0 55.3C517.3 55.1 518.6 54.9 519.9 54.8C521.3 54.6 522.6 54.5 523.9 54.5C525.3 54.4 526.6 54.3 527.9 54.3C529.3 54.3 530.6 54.2 531.9 54.2C533.3 54.2 534.6 54.3 535.9 54.3C537.3 54.3 538.6 54.3 539.9 54.4C541.3 54.4 542.6 54.4 544.0 54.4C545.3 54.5 546.6 54.5 548.0 54.5C549.3 54.5 550.6 54.5 552.0 54.5C553.3 54.4 554.6 54.4 556.0 54.4C557.3 54.3 558.6 54.3 560.0 54.2C561.3 54.2 562.6 54.2 564.0 54.1C565.3 54.1 566.6 54.0 568.0 54.0C569.3 53.9 570.7 53.9 572.0 53.9C573.3 53.8 574.7 53.8 576.0 53.8C577.3 53.8 579.3 53.8 580.0 53.8"/>
</g>
<g stroke-dasharray="5.4 2.5 1.2 2.3">
<path stroke="#fff" d="M96.5 238.9C97.0 238.5 98.5 237.2 99.6 236.4C100.7 235.7 101.9 235.0 103.1 234.4C104.3 233.8 105.5 233.3 106.8 232.8C108.0 232.3 109.3 231.8 110.5 231.4C111.7 230.9 113.0 230.4 114.2 229.9C115.4 229.3 116.6 228.7 117.8 228.1C119.0 227.5 120.1 226.8 121.2 226.0C122.3 225.3 123.4 224.5 124.4 223.6C125.5 222.8 126.5 221.9 127.4 221.0C128.4 220.1 129.3 219.1 130.2 218.1C131.1 217.1 131.9 216.0 132.7 215.0C133.5 213.9 134.3 212.8 135.0 211.7C135.7 210.6 136.4 209.4 137.1 208.3C137.8 207.1 138.4 206.0 139.0 204.8C139.6 203.6 140.2 202.4 140.8 201.2C141.4 200.0 141.9 198.8 142.5 197.5C143.0 196.3 143.5 195.1 144.0 193.9C144.5 192.6 145.0 191.4 145.5 190.1C146.0 188.9 146.5 187.7 147.0 186.4C147.5 185.2 147.9 183.9 148.4 182.7C148.9 181.4 149.3 180.2 149.8 178.9C150.2 177.6 150.7 176.4 151.1 175.1C151.5 173.9 152.0 172.6 152.4 171.3C152.8 170.1 153.2 168.8 153.7 167.5C154.1 166.3 154.5 165.0 154.9 163.7C155.3 162.5 155.8 161.2 156.2 159.9C156.6 158.7 157.0 157.4 157.4 156.1C157.8 154.9 158.2 153.6 158.6 152.3C159.0 151.0 159.4 149.8 159.9 148.5C160.3 147.2 160.7 146.0 161.1 144.7C161.5 143.4 161.9 142.2 162.3 140.9C162.7 139.6 163.2 138.4 163.6 137.1C164.0 135.8 164.4 134.6 164.9 133.3C165.3 132.0 165.7 130.8 166.2 129.5C166.6 128.3 167.0 127.0 167.5 125.7C167.9 124.5 168.4 123.2 168.9 122.0C169.3 120.7 169.8 119.5 170.3 118.2C170.7 117.0 171.2 115.7 171.7 114.5C172.2 113.2 172.6 112.0 173.1 110.7C173.6 109.5 174.1 108.3 174.6 107.0C175.1 105.8 175.5 104.5 176.0 103.3C176.5 102.0 177.0 100.8 177.5 99.6C178.0 98.3 178.5 97.1 179.0 95.9C179.5 94.6 180.0 93.4 180.6 92.2C181.1 90.9 181.6 89.7 182.2 88.5C182.8 87.3 183.3 86.1 183.9 84.9C184.5 83.7 185.1 82.5 185.8 81.4C186.5 80.2 187.1 79.0 187.8 77.9C188.5 76.8 189.3 75.7 190.1 74.6C190.8 73.5 191.6 72.4 192.5 71.4C193.3 70.4 194.2 69.3 195.1 68.4C196.0 67.4 197.0 66.4 197.9 65.5C198.9 64.6 199.9 63.8 201.0 63.0C202.1 62.2 203.1 61.4 204.3 60.7C205.4 60.0 206.6 59.3 207.8 58.7C209.0 58.2 210.2 57.7 211.5 57.2C212.8 56.8 214.0 56.4 215.3 56.1C216.6 55.8 218.0 55.6 219.3 55.4C220.6 55.2 221.9 55.1 223.3 55.0C224.6 54.8 225.9 54.8 227.2 54.7C228.6 54.7 229.9 54.7 231.3 54.7C232.6 54.7 233.9 54.7 235.3 54.7C236.6 54.8 237.9 54.8 239.3 54.9C240.6 55.0 241.9 55.1 243.2 55.3C244.6 55.4 245.9 55.6 247.2 55.8C248.5 56.1 249.8 56.4 251.1 56.7C252.4 57.1 253.7 57.5 254.9 58.1C256.1 58.6 257.3 59.2 258.5 59.9C259.6 60.5 260.7 61.3 261.8 62.1C262.8 62.9 263.8 63.8 264.8 64.7C265.8 65.6 266.7 66.6 267.6 67.5C268.5 68.5 269.4 69.5 270.2 70.6C271.1 71.6 271.9 72.7 272.7 73.7C273.5 74.8 274.2 75.9 275.0 77.0C275.7 78.1 276.4 79.3 277.1 80.4C277.8 81.5 278.5 82.7 279.1 83.9C279.8 85.0 280.4 86.2 281.0 87.4C281.6 88.6 282.2 89.8 282.8 91.0C283.3 92.2 283.9 93.4 284.4 94.6C285.0 95.9 285.5 97.1 286.0 98.3C286.5 99.6 286.9 100.8 287.4 102.1C287.9 103.3 288.3 104.6 288.8 105.8C289.2 107.1 289.7 108.4 290.1 109.6C290.5 110.9 290.9 112.2 291.3 113.4C291.7 114.7 292.1 116.0 292.5 117.3C292.9 118.5 293.2 119.8 293.6 121.1C294.0 122.4 294.4 123.7 294.7 124.9C295.1 126.2 295.5 127.5 295.8 128.8C296.2 130.1 296.5 131.4 296.9 132.7C297.2 133.9 297.6 135.2 297.9 136.5C298.3 137.8 298.6 139.1 299.0 140.4C299.3 141.7 299.6 143.0 300.0 144.3C300.3 145.6 300.7 146.9 301.0 148.1C301.3 149.4 301.6 150.7 302.0 152.0C302.3 153.3 302.6 154.6 303.0 155.9C303.3 157.2 303.6 158.5 303.9 159.8C304.3 161.1 304.6 162.4 304.9 163.7C305.3 165.0 305.6 166.3 305.9 167.5C306.2 168.8 306.6 170.1 306.9 171.4C307.2 172.7 307.6 174.0 307.9 175.3C308.2 176.6 308.5 177.9 308.9 179.2C309.2 180.5 309.5 181.8 309.9 183.1C310.2 184.4 310.6 185.6 310.9 186.9C311.2 188.2 311.6 189.5 311.9 190.8C312.3 192.1 312.6 193.4 313.0 194.7C313.3 195.9 313.7 197.2 314.1 198.5C314.4 199.8 314.8 201.1 315.2 202.4C315.5 203.7 315.9 204.9 316.3 206.2C316.7 207.5 317.0 208.8 317.4 210.0C317.8 211.3 318.2 212.6 318.6 213.9C319.0 215.1 319.4 216.4 319.8 217.7C320.2 219.0 320.7 220.2 321.1 221.5C321.5 222.8 321.9 224.0 322.4 225.3C322.8 226.5 323.2 227.8 323.7 229.1C324.2 230.3 324.6 231.6 325.1 232.8C325.6 234.1 326.0 235.3 326.5 236.5C327.0 237.8 327.5 239.0 328.0 240.3C328.6 241.5 329.1 242.7 329.7 243.9C330.3 245.1 330.9 246.3 331.6 247.4C332.3 248.5 333.1 249.7 333.9 250.7C334.7 251.7 335.6 252.7 336.6 253.6C337.6 254.5 338.7 255.4 339.9 256.0C341.0 256.6 342.3 257.2 343.6 257.3C344.9 257.5 346.3 257.2 347.5 256.7C348.7 256.2 349.7 255.3 350.7 254.4C351.7 253.5 352.6 252.5 353.4 251.4C354.3 250.4 355.0 249.3 355.8 248.2C356.6 247.1 357.3 246.0 358.0 244.9C358.8 243.8 359.5 242.6 360.2 241.5C360.9 240.4 361.5 239.2 362.2 238.1C362.9 236.9 363.5 235.7 364.2 234.6C364.9 233.4 365.5 232.3 366.2 231.1C366.8 229.9 367.5 228.8 368.1 227.6C368.8 226.4 369.4 225.3 370.1 224.1C370.7 222.9 371.4 221.8 372.1 220.6C372.7 219.5 373.4 218.3 374.1 217.2C374.8 216.0 375.5 214.9 376.2 213.8C376.9 212.6 377.6 211.5 378.2 210.3C378.9 209.2 379.6 208.1 380.3 206.9C381.0 205.8 381.7 204.6 382.4 203.5C383.1 202.3 383.7 201.2 384.4 200.0C385.1 198.9 385.8 197.7 386.4 196.6C387.1 195.4 387.8 194.3 388.5 193.1C389.1 192.0 389.8 190.8 390.5 189.7C391.2 188.6 392.0 187.4 392.7 186.3C393.5 185.2 394.2 184.1 395.0 183.1C395.8 182.0 396.7 181.0 397.5 180.0C398.4 178.9 399.3 177.9 400.2 177.0C401.1 176.0 402.0 175.0 403.0 174.1C403.9 173.1 404.9 172.2 405.9 171.3C406.9 170.4 407.9 169.6 408.9 168.7C409.9 167.8 410.9 167.0 412.0 166.1C413.0 165.3 414.1 164.5 415.1 163.7C416.2 162.8 417.2 162.0 418.3 161.2C419.4 160.4 420.5 159.7 421.5 158.9C422.6 158.1 423.7 157.3 424.8 156.5C425.9 155.8 427.0 155.0 428.1 154.2C429.1 153.4 430.2 152.7 431.3 151.9C432.4 151.1 433.4 150.3 434.5 149.4C435.5 148.6 436.5 147.7 437.5 146.9C438.5 146.0 439.5 145.0 440.4 144.1C441.4 143.1 442.3 142.1 443.1 141.1C444.0 140.1 444.8 139.1 445.6 138.0C446.4 136.9 447.2 135.8 447.9 134.7C448.7 133.6 449.4 132.5 450.1 131.4C450.8 130.3 451.5 129.1 452.2 128.0C452.9 126.8 453.6 125.7 454.3 124.5C454.9 123.4 455.6 122.2 456.2 121.0C456.9 119.9 457.5 118.7 458.2 117.5C458.8 116.4 459.5 115.2 460.1 114.0C460.8 112.9 461.4 111.7 462.0 110.5C462.7 109.4 463.3 108.2 464.0 107.0C464.6 105.8 465.2 104.7 465.9 103.5C466.5 102.3 467.2 101.2 467.9 100.0C468.5 98.9 469.2 97.7 469.9 96.6C470.5 95.4 471.2 94.3 471.9 93.1C472.6 92.0 473.3 90.8 474.0 89.7C474.8 88.6 475.5 87.5 476.2 86.4C477.0 85.3 477.8 84.2 478.5 83.1C479.3 82.0 480.1 80.9 480.9 79.9C481.7 78.8 482.5 77.8 483.4 76.7C484.2 75.7 485.1 74.7 486.0 73.7C486.9 72.7 487.8 71.7 488.7 70.7C489.6 69.8 490.6 68.8 491.5 67.9C492.5 67.0 493.5 66.1 494.5 65.3C495.6 64.4 496.6 63.6 497.7 62.8C498.8 62.1 499.9 61.3 501.1 60.6C502.2 59.9 503.4 59.3 504.6 58.7C505.8 58.1 507.0 57.6 508.2 57.1C509.5 56.6 510.8 56.2 512.1 55.9C513.3 55.6 514.7 55.3 516.0 55.1C517.3 54.9 518.6 54.8 520.0 54.7C521.3 54.6 522.6 54.6 524.0 54.6C525.3 54.5 526.6 54.6 528.0 54.6C529.3 54.6 530.6 54.6 532.0 54.6C533.3 54.6 534.6 54.6 536.0 54.5C537.3 54.5 538.6 54.5 540.0 54.4C541.3 54.4 542.6 54.4 544.0 54.4C545.3 54.3 546.6 54.3 548.0 54.3C549.3 54.2 550.6 54.2 552.0 54.2C553.3 54.2 554.6 54.2 556.0 54.2C557.3 54.2 558.7 54.2 560.0 54.2C561.3 54.1 562.7 54.1 564.0 54.1C565.3 54.1 566.7 54.1 568.0 54.1C569.3 54.1 570.7 54.1 572.0 54.0C573.3 54.0 574.7 54.0 576.0 53.9C577.3 53.9 579.3 53.8 580.0 53.8"/><path stroke="#fff" d="M96.5 238.9C97.0 238.5 98.5 237.2 99.6 236.4C100.7 235.7 101.9 235.0 103.1 234.4C104.3 233.8 105.5 233.3 106.8 232.8C108.0 232.3 109.3 231.8 110.5 231.4C111.7 230.9 113.0 230.4 114.2 229.9C115.4 229.3 116.6 228.7 117.8 228.1C119.0 227.5 120.1 226.8 121.2 226.0C122.3 225.3 123.4 224.5 124.4 223.6C125.5 222.8 126.5 221.9 127.4 221.0C128.4 220.1 129.3 219.1 130.2 218.1C131.1 217.1 131.9 216.0 132.7 215.0C133.5 213.9 134.3 212.8 135.0 211.7C135.7 210.6 136.4 209.4 137.1 208.3C137.8 207.1 138.4 206.0 139.0 204.8C139.6 203.6 140.2 202.4 140.8 201.2C141.4 200.0 141.9 198.8 142.5 197.5C143.0 196.3 143.5 195.1 144.0 193.9C144.5 192.6 145.0 191.4 145.5 190.1C146.0 188.9 146.5 187.7 147.0 186.4C147.5 185.2 147.9 183.9 148.4 182.7C148.9 181.4 149.3 180.2 149.8 178.9C150.2 177.6 150.7 176.4 151.1 175.1C151.5 173.9 152.0 172.6 152.4 171.3C152.8 170.1 153.2 168.8 153.7 167.5C154.1 166.3 154.5 165.0 154.9 163.7C155.3 162.5 155.8 161.2 156.2 159.9C156.6 158.7 157.0 157.4 157.4 156.1C157.8 154.9 158.2 153.6 158.6 152.3C159.0 151.0 159.4 149.8 159.9 148.5C160.3 147.2 160.7 146.0 161.1 144.7C161.5 143.4 161.9 142.2 162.3 140.9C162.7 139.6 163.2 138.4 163.6 137.1C164.0 135.8 164.4 134.6 164.9 133.3C165.3 132.0 165.7 130.8 166.2 129.5C166.6 128.3 167.0 127.0 167.5 125.7C167.9 124.5 168.4 123.2 168.9 122.0C169.3 120.7 169.8 119.5 170.3 118.2C170.7 117.0 171.2 115.7 171.7 114.5C172.2 113.2 172.6 112.0 173.1 110.7C173.6 109.5 174.1 108.3 174.6 107.0C175.1 105.8 175.5 104.5 176.0 103.3C176.5 102.0 177.0 100.8 177.5 99.6C178.0 98.3 178.5 97.1 179.0 95.9C179.5 94.6 180.0 93.4 180.6 92.2C181.1 90.9 181.6 89.7 182.2 88.5C182.8 87.3 183.3 86.1 183.9 84.9C184.5 83.7 185.1 82.5 185.8 81.4C186.5 80.2 187.1 79.0 187.8 77.9C188.5 76.8 189.3 75.7 190.1 74.6C190.8 73.5 191.6 72.4 192.5 71.4C193.3 70.4 194.2 69.3 195.1 68.4C196.0 67.4 197.0 66.4 197.9 65.5C198.9 64.6 199.9 63.8 201.0 63.0C202.1 62.2 203.1 61.4 204.3 60.7C205.4 60.0 206.6 59.3 207.8 58.7C209.0 58.2 210.2 57.7 211.5 57.2C212.8 56.8 214.0 56.4 215.3 56.1C216.6 55.8 218.0 55.6 219.3 55.4C220.6 55.2 221.9 55.1 223.3 55.0C224.6 54.8 225.9 54.8 227.2 54.7C228.6 54.7 229.9 54.7 231.3 54.7C232.6 54.7 233.9 54.7 235.3 54.7C236.6 54.8 237.9 54.8 239.3 54.9C240.6 55.0 241.9 55.1 243.2 55.3C244.6 55.4 245.9 55.6 247.2 55.8C248.5 56.1 249.8 56.4 251.1 56.7C252.4 57.1 253.7 57.5 254.9 58.1C256.1 58.6 257.3 59.2 258.5 59.9C259.6 60.5 260.7 61.3 261.8 62.1C262.8 62.9 263.8 63.8 264.8 64.7C265.8 65.6 266.7 66.6 267.6 67.5C268.5 68.5 269.4 69.5 270.2 70.6C271.1 71.6 271.9 72.7 272.7 73.7C273.5 74.8 274.2 75.9 275.0 77.0C275.7 78.1 276.4 79.3 277.1 80.4C277.8 81.5 278.5 82.7 279.1 83.9C279.8 85.0 280.4 86.2 281.0 87.4C281.6 88.6 282.2 89.8 282.8 91.0C283.3 92.2 283.9 93.4 284.4 94.6C285.0 95.9 285.5 97.1 286.0 98.3C286.5 99.6 286.9 100.8 287.4 102.1C287.9 103.3 288.3 104.6 288.8 105.8C289.2 107.1 289.7 108.4 290.1 109.6C290.5 110.9 290.9 112.2 291.3 113.4C291.7 114.7 292.1 116.0 292.5 117.3C292.9 118.5 293.2 119.8 293.6 121.1C294.0 122.4 294.4 123.7 294.7 124.9C295.1 126.2 295.5 127.5 295.8 128.8C296.2 130.1 296.5 131.4 296.9 132.7C297.2 133.9 297.6 135.2 297.9 136.5C298.3 137.8 298.6 139.1 299.0 140.4C299.3 141.7 299.6 143.0 300.0 144.3C300.3 145.6 300.7 146.9 301.0 148.1C301.3 149.4 301.6 150.7 302.0 152.0C302.3 153.3 302.6 154.6 303.0 155.9C303.3 157.2 303.6 158.5 303.9 159.8C304.3 161.1 304.6 162.4 304.9 163.7C305.3 165.0 305.6 166.3 305.9 167.5C306.2 168.8 306.6 170.1 306.9 171.4C307.2 172.7 307.6 174.0 307.9 175.3C308.2 176.6 308.5 177.9 308.9 179.2C309.2 180.5 309.5 181.8 309.9 183.1C310.2 184.4 310.6 185.6 310.9 186.9C311.2 188.2 311.6 189.5 311.9 190.8C312.3 192.1 312.6 193.4 313.0 194.7C313.3 195.9 313.7 197.2 314.1 198.5C314.4 199.8 314.8 201.1 315.2 202.4C315.5 203.7 315.9 204.9 316.3 206.2C316.7 207.5 317.0 208.8 317.4 210.0C317.8 211.3 318.2 212.6 318.6 213.9C319.0 215.1 319.4 216.4 319.8 217.7C320.2 219.0 320.7 220.2 321.1 221.5C321.5 222.8 321.9 224.0 322.4 225.3C322.8 226.5 323.2 227.8 323.7 229.1C324.2 230.3 324.6 231.6 325.1 232.8C325.6 234.1 326.0 235.3 326.5 236.5C327.0 237.8 327.5 239.0 328.0 240.3C328.6 241.5 329.1 242.7 329.7 243.9C330.3 245.1 330.9 246.3 331.6 247.4C332.3 248.5 333.1 249.7 333.9 250.7C334.7 251.7 335.6 252.7 336.6 253.6C337.6 254.5 338.7 255.4 339.9 256.0C341.0 256.6 342.3 257.2 343.6 257.3C344.9 257.5 346.3 257.2 347.5 256.7C348.7 256.2 349.7 255.3 350.7 254.4C351.7 253.5 352.6 252.5 353.4 251.4C354.3 250.4 355.0 249.3 355.8 248.2C356.6 247.1 357.3 246.0 358.0 244.9C358.8 243.8 359.5 242.6 360.2 241.5C360.9 240.4 361.5 239.2 362.2 238.1C362.9 236.9 363.5 235.7 364.2 234.6C364.9 233.4 365.5 232.3 366.2 231.1C366.8 229.9 367.5 228.8 368.1 227.6C368.8 226.4 369.4 225.3 370.1 224.1C370.7 222.9 371.4 221.8 372.1 220.6C372.7 219.5 373.4 218.3 374.1 217.2C374.8 216.0 375.5 214.9 376.2 213.8C376.9 212.6 377.6 211.5 378.2 210.3C378.9 209.2 379.6 208.1 380.3 206.9C381.0 205.8 381.7 204.6 382.4 203.5C383.1 202.3 383.7 201.2 384.4 200.0C385.1 198.9 385.8 197.7 386.4 196.6C387.1 195.4 387.8 194.3 388.5 193.1C389.1 192.0 389.8 190.8 390.5 189.7C391.2 188.6 392.0 187.4 392.7 186.3C393.5 185.2 394.2 184.1 395.0 183.1C395.8 182.0 396.7 181.0 397.5 180.0C398.4 178.9 399.3 177.9 400.2 177.0C401.1 176.0 402.0 175.0 403.0 174.1C403.9 173.1 404.9 172.2 405.9 171.3C406.9 170.4 407.9 169.6 408.9 168.7C409.9 167.8 410.9 167.0 412.0 166.1C413.0 165.3 414.1 164.5 415.1 163.7C416.2 162.8 417.2 162.0 418.3 161.2C419.4 160.4 420.5 159.7 421.5 158.9C422.6 158.1 423.7 157.3 424.8 156.5C425.9 155.8 427.0 155.0 428.1 154.2C429.1 153.4 430.2 152.7 431.3 151.9C432.4 151.1 433.4 150.3 434.5 149.4C435.5 148.6 436.5 147.7 437.5 146.9C438.5 146.0 439.5 145.0 440.4 144.1C441.4 143.1 442.3 142.1 443.1 141.1C444.0 140.1 444.8 139.1 445.6 138.0C446.4 136.9 447.2 135.8 447.9 134.7C448.7 133.6 449.4 132.5 450.1 131.4C450.8 130.3 451.5 129.1 452.2 128.0C452.9 126.8 453.6 125.7 454.3 124.5C454.9 123.4 455.6 122.2 456.2 121.0C456.9 119.9 457.5 118.7 458.2 117.5C458.8 116.4 459.5 115.2 460.1 114.0C460.8 112.9 461.4 111.7 462.0 110.5C462.7 109.4 463.3 108.2 464.0 107.0C464.6 105.8 465.2 104.7 465.9 103.5C466.5 102.3 467.2 101.2 467.9 100.0C468.5 98.9 469.2 97.7 469.9 96.6C470.5 95.4 471.2 94.3 471.9 93.1C472.6 92.0 473.3 90.8 474.0 89.7C474.8 88.6 475.5 87.5 476.2 86.4C477.0 85.3 477.8 84.2 478.5 83.1C479.3 82.0 480.1 80.9 480.9 79.9C481.7 78.8 482.5 77.8 483.4 76.7C484.2 75.7 485.1 74.7 486.0 73.7C486.9 72.7 487.8 71.7 488.7 70.7C489.6 69.8 490.6 68.8 491.5 67.9C492.5 67.0 493.5 66.1 494.5 65.3C495.6 64.4 496.6 63.6 497.7 62.8C498.8 62.1 499.9 61.3 501.1 60.6C502.2 59.9 503.4 59.3 504.6 58.7C505.8 58.1 507.0 57.6 508.2 57.1C509.5 56.6 510.8 56.2 512.1 55.9C513.3 55.6 514.7 55.3 516.0 55.1C517.3 54.9 518.6 54.8 520.0 54.7C521.3 54.6 522.6 54.6 524.0 54.6C525.3 54.5 526.6 54.6 528.0 54.6C529.3 54.6 530.6 54.6 532.0 54.6C533.3 54.6 534.6 54.6 536.0 54.5C537.3 54.5 538.6 54.5 540.0 54.4C541.3 54.4 542.6 54.4 544.0 54.4C545.3 54.3 546.6 54.3 548.0 54.3C549.3 54.2 550.6 54.2 552.0 54.2C553.3 54.2 554.6 54.2 556.0 54.2C557.3 54.2 558.7 54.2 560.0 54.2C561.3 54.1 562.7 54.1 564.0 54.1C565.3 54.1 566.7 54.1 568.0 54.1C569.3 54.1 570.7 54.1 572.0 54.0C573.3 54.0 574.7 54.0 576.0 53.9C577.3 53.9 579.3 53.8 580.0 53.8"/><path stroke="#00f" d="M96.5 238.9C97.0 238.5 98.5 237.2 99.6 236.4C100.7 235.7 101.9 235.0 103.1 234.4C104.3 233.8 105.5 233.3 106.8 232.8C108.0 232.3 109.3 231.8 110.5 231.4C111.7 230.9 113.0 230.4 114.2 229.9C115.4 229.3 116.6 228.7 117.8 228.1C119.0 227.5 120.1 226.8 121.2 226.0C122.3 225.3 123.4 224.5 124.4 223.6C125.5 222.8 126.5 221.9 127.4 221.0C128.4 220.1 129.3 219.1 130.2 218.1C131.1 217.1 131.9 216.0 132.7 215.0C133.5 213.9 134.3 212.8 135.0 211.7C135.7 210.6 136.4 209.4 137.1 208.3C137.8 207.1 138.4 206.0 139.0 204.8C139.6 203.6 140.2 202.4 140.8 201.2C141.4 200.0 141.9 198.8 142.5 197.5C143.0 196.3 143.5 195.1 144.0 193.9C144.5 192.6 145.0 191.4 145.5 190.1C146.0 188.9 146.5 187.7 147.0 186.4C147.5 185.2 147.9 183.9 148.4 182.7C148.9 181.4 149.3 180.2 149.8 178.9C150.2 177.6 150.7 176.4 151.1 175.1C151.5 173.9 152.0 172.6 152.4 171.3C152.8 170.1 153.2 168.8 153.7 167.5C154.1 166.3 154.5 165.0 154.9 163.7C155.3 162.5 155.8 161.2 156.2 159.9C156.6 158.7 157.0 157.4 157.4 156.1C157.8 154.9 158.2 153.6 158.6 152.3C159.0 151.0 159.4 149.8 159.9 148.5C160.3 147.2 160.7 146.0 161.1 144.7C161.5 143.4 161.9 142.2 162.3 140.9C162.7 139.6 163.2 138.4 163.6 137.1C164.0 135.8 164.4 134.6 164.9 133.3C165.3 132.0 165.7 130.8 166.2 129.5C166.6 128.3 167.0 127.0 167.5 125.7C167.9 124.5 168.4 123.2 168.9 122.0C169.3 120.7 169.8 119.5 170.3 118.2C170.7 117.0 171.2 115.7 171.7 114.5C172.2 113.2 172.6 112.0 173.1 110.7C173.6 109.5 174.1 108.3 174.6 107.0C175.1 105.8 175.5 104.5 176.0 103.3C176.5 102.0 177.0 100.8 177.5 99.6C178.0 98.3 178.5 97.1 179.0 95.9C179.5 94.6 180.0 93.4 180.6 92.2C181.1 90.9 181.6 89.7 182.2 88.5C182.8 87.3 183.3 86.1 183.9 84.9C184.5 83.7 185.1 82.5 185.8 81.4C186.5 80.2 187.1 79.0 187.8 77.9C188.5 76.8 189.3 75.7 190.1 74.6C190.8 73.5 191.6 72.4 192.5 71.4C193.3 70.4 194.2 69.3 195.1 68.4C196.0 67.4 197.0 66.4 197.9 65.5C198.9 64.6 199.9 63.8 201.0 63.0C202.1 62.2 203.1 61.4 204.3 60.7C205.4 60.0 206.6 59.3 207.8 58.7C209.0 58.2 210.2 57.7 211.5 57.2C212.8 56.8 214.0 56.4 215.3 56.1C216.6 55.8 218.0 55.6 219.3 55.4C220.6 55.2 221.9 55.1 223.3 55.0C224.6 54.8 225.9 54.8 227.2 54.7C228.6 54.7 229.9 54.7 231.3 54.7C232.6 54.7 233.9 54.7 235.3 54.7C236.6 54.8 237.9 54.8 239.3 54.9C240.6 55.0 241.9 55.1 243.2 55.3C244.6 55.4 245.9 55.6 247.2 55.8C248.5 56.1 249.8 56.4 251.1 56.7C252.4 57.1 253.7 57.5 254.9 58.1C256.1 58.6 257.3 59.2 258.5 59.9C259.6 60.5 260.7 61.3 261.8 62.1C262.8 62.9 263.8 63.8 264.8 64.7C265.8 65.6 266.7 66.6 267.6 67.5C268.5 68.5 269.4 69.5 270.2 70.6C271.1 71.6 271.9 72.7 272.7 73.7C273.5 74.8 274.2 75.9 275.0 77.0C275.7 78.1 276.4 79.3 277.1 80.4C277.8 81.5 278.5 82.7 279.1 83.9C279.8 85.0 280.4 86.2 281.0 87.4C281.6 88.6 282.2 89.8 282.8 91.0C283.3 92.2 283.9 93.4 284.4 94.6C285.0 95.9 285.5 97.1 286.0 98.3C286.5 99.6 286.9 100.8 287.4 102.1C287.9 103.3 288.3 104.6 288.8 105.8C289.2 107.1 289.7 108.4 290.1 109.6C290.5 110.9 290.9 112.2 291.3 113.4C291.7 114.7 292.1 116.0 292.5 117.3C292.9 118.5 293.2 119.8 293.6 121.1C294.0 122.4 294.4 123.7 294.7 124.9C295.1 126.2 295.5 127.5 295.8 128.8C296.2 130.1 296.5 131.4 296.9 132.7C297.2 133.9 297.6 135.2 297.9 136.5C298.3 137.8 298.6 139.1 299.0 140.4C299.3 141.7 299.6 143.0 300.0 144.3C300.3 145.6 300.7 146.9 301.0 148.1C301.3 149.4 301.6 150.7 302.0 152.0C302.3 153.3 302.6 154.6 303.0 155.9C303.3 157.2 303.6 158.5 303.9 159.8C304.3 161.1 304.6 162.4 304.9 163.7C305.3 165.0 305.6 166.3 305.9 167.5C306.2 168.8 306.6 170.1 306.9 171.4C307.2 172.7 307.6 174.0 307.9 175.3C308.2 176.6 308.5 177.9 308.9 179.2C309.2 180.5 309.5 181.8 309.9 183.1C310.2 184.4 310.6 185.6 310.9 186.9C311.2 188.2 311.6 189.5 311.9 190.8C312.3 192.1 312.6 193.4 313.0 194.7C313.3 195.9 313.7 197.2 314.1 198.5C314.4 199.8 314.8 201.1 315.2 202.4C315.5 203.7 315.9 204.9 316.3 206.2C316.7 207.5 317.0 208.8 317.4 210.0C317.8 211.3 318.2 212.6 318.6 213.9C319.0 215.1 319.4 216.4 319.8 217.7C320.2 219.0 320.7 220.2 321.1 221.5C321.5 222.8 321.9 224.0 322.4 225.3C322.8 226.5 323.2 227.8 323.7 229.1C324.2 230.3 324.6 231.6 325.1 232.8C325.6 234.1 326.0 235.3 326.5 236.5C327.0 237.8 327.5 239.0 328.0 240.3C328.6 241.5 329.1 242.7 329.7 243.9C330.3 245.1 330.9 246.3 331.6 247.4C332.3 248.5 333.1 249.7 333.9 250.7C334.7 251.7 335.6 252.7 336.6 253.6C337.6 254.5 338.7 255.4 339.9 256.0C341.0 256.6 342.3 257.2 343.6 257.3C344.9 257.5 346.3 257.2 347.5 256.7C348.7 256.2 349.7 255.3 350.7 254.4C351.7 253.5 352.6 252.5 353.4 251.4C354.3 250.4 355.0 249.3 355.8 248.2C356.6 247.1 357.3 246.0 358.0 244.9C358.8 243.8 359.5 242.6 360.2 241.5C360.9 240.4 361.5 239.2 362.2 238.1C362.9 236.9 363.5 235.7 364.2 234.6C364.9 233.4 365.5 232.3 366.2 231.1C366.8 229.9 367.5 228.8 368.1 227.6C368.8 226.4 369.4 225.3 370.1 224.1C370.7 222.9 371.4 221.8 372.1 220.6C372.7 219.5 373.4 218.3 374.1 217.2C374.8 216.0 375.5 214.9 376.2 213.8C376.9 212.6 377.6 211.5 378.2 210.3C378.9 209.2 379.6 208.1 380.3 206.9C381.0 205.8 381.7 204.6 382.4 203.5C383.1 202.3 383.7 201.2 384.4 200.0C385.1 198.9 385.8 197.7 386.4 196.6C387.1 195.4 387.8 194.3 388.5 193.1C389.1 192.0 389.8 190.8 390.5 189.7C391.2 188.6 392.0 187.4 392.7 186.3C393.5 185.2 394.2 184.1 395.0 183.1C395.8 182.0 396.7 181.0 397.5 180.0C398.4 178.9 399.3 177.9 400.2 177.0C401.1 176.0 402.0 175.0 403.0 174.1C403.9 173.1 404.9 172.2 405.9 171.3C406.9 170.4 407.9 169.6 408.9 168.7C409.9 167.8 410.9 167.0 412.0 166.1C413.0 165.3 414.1 164.5 415.1 163.7C416.2 162.8 417.2 162.0 418.3 161.2C419.4 160.4 420.5 159.7 421.5 158.9C422.6 158.1 423.7 157.3 424.8 156.5C425.9 155.8 427.0 155.0 428.1 154.2C429.1 153.4 430.2 152.7 431.3 151.9C432.4 151.1 433.4 150.3 434.5 149.4C435.5 148.6 436.5 147.7 437.5 146.9C438.5 146.0 439.5 145.0 440.4 144.1C441.4 143.1 442.3 142.1 443.1 141.1C444.0 140.1 444.8 139.1 445.6 138.0C446.4 136.9 447.2 135.8 447.9 134.7C448.7 133.6 449.4 132.5 450.1 131.4C450.8 130.3 451.5 129.1 452.2 128.0C452.9 126.8 453.6 125.7 454.3 124.5C454.9 123.4 455.6 122.2 456.2 121.0C456.9 119.9 457.5 118.7 458.2 117.5C458.8 116.4 459.5 115.2 460.1 114.0C460.8 112.9 461.4 111.7 462.0 110.5C462.7 109.4 463.3 108.2 464.0 107.0C464.6 105.8 465.2 104.7 465.9 103.5C466.5 102.3 467.2 101.2 467.9 100.0C468.5 98.9 469.2 97.7 469.9 96.6C470.5 95.4 471.2 94.3 471.9 93.1C472.6 92.0 473.3 90.8 474.0 89.7C474.8 88.6 475.5 87.5 476.2 86.4C477.0 85.3 477.8 84.2 478.5 83.1C479.3 82.0 480.1 80.9 480.9 79.9C481.7 78.8 482.5 77.8 483.4 76.7C484.2 75.7 485.1 74.7 486.0 73.7C486.9 72.7 487.8 71.7 488.7 70.7C489.6 69.8 490.6 68.8 491.5 67.9C492.5 67.0 493.5 66.1 494.5 65.3C495.6 64.4 496.6 63.6 497.7 62.8C498.8 62.1 499.9 61.3 501.1 60.6C502.2 59.9 503.4 59.3 504.6 58.7C505.8 58.1 507.0 57.6 508.2 57.1C509.5 56.6 510.8 56.2 512.1 55.9C513.3 55.6 514.7 55.3 516.0 55.1C517.3 54.9 518.6 54.8 520.0 54.7C521.3 54.6 522.6 54.6 524.0 54.6C525.3 54.5 526.6 54.6 528.0 54.6C529.3 54.6 530.6 54.6 532.0 54.6C533.3 54.6 534.6 54.6 536.0 54.5C537.3 54.5 538.6 54.5 540.0 54.4C541.3 54.4 542.6 54.4 544.0 54.4C545.3 54.3 546.6 54.3 548.0 54.3C549.3 54.2 550.6 54.2 552.0 54.2C553.3 54.2 554.6 54.2 556.0 54.2C557.3 54.2 558.7 54.2 560.0 54.2C561.3 54.1 562.7 54.1 564.0 54.1C565.3 54.1 566.7 54.1 568.0 54.1C569.3 54.1 570.7 54.1 572.0 54.0C573.3 54.0 574.7 54.0 576.0 53.9C577.3 53.9 579.3 53.8 580.0 53.8"/>
</g>
</g>
<path fill="none" stroke="#000" stroke-width="0.9" d="M338.3 21.7 V308.45 M391.62 21.7 V308.45 M440.05 21.7 V308.45"/>
<rect x="106.6" y="237.65" width="176.1" height="55.2" fill="#fff" stroke="#000" stroke-width="0.92"/>
<g fill="none" stroke-width="0.95">
<path stroke="#000" d="M121.1 249.5 H211.4"/>
<path stroke="#f00" stroke-dasharray="5.5 4.5" d="M121.1 265.3 H206.8"/>
<path stroke="#00f" stroke-dasharray="5.4 2.5 1.2 2.3" d="M121.1 281.1 H208.9"/>
</g>
<g font-size="15.5px">
<text transform="translate(221.2 253.7) scale(1.01,1.07)">Full 3D</text>
<text transform="translate(221.2 269.8) scale(1.01,1.07)">&lt;3D&gt;</text>
<text transform="translate(221.2 285.4) scale(1.01,1.07)">1D LHD</text>
<text transform="translate(111.2 45.5) scale(1.025,1.09)">4040/1.50/&#8722;1.00</text>
<text transform="translate(330.5 2.7) scale(1.025,1.09)" text-anchor="middle">MgH</text>
<text transform="translate(389.7 2.7) scale(1.025,1.09)" text-anchor="middle">MgH</text>
<text transform="translate(447.2 2.7) scale(1.025,1.09)" text-anchor="middle">MgH</text>
</g>
<g font-size="21.0px" text-anchor="end">
<text transform="translate(90.8 60.6) scale(1,1.09)">1.0</text>
<text transform="translate(90.8 124.4) scale(1,1.09)">0.8</text>
<text transform="translate(90.8 188.2) scale(1,1.09)">0.6</text>
<text transform="translate(90.8 252.0) scale(1,1.09)">0.4</text>
<text transform="translate(90.8 309.0) scale(1,1.09)">0.2</text>
</g>
<g font-size="21.0px" text-anchor="middle">
<text transform="translate(173.8 335.5) scale(1,1.09)">5134.8</text>
<text transform="translate(294.7 335.5) scale(1,1.09)">5135.0</text>
<text transform="translate(415.6 335.5) scale(1,1.09)">5135.2</text>
<text transform="translate(536.5 335.5) scale(1,1.09)">5135.4</text>
<text transform="translate(338.6 357.8) scale(1,1.07)">Wavelength [&#197;]</text>
<text transform="translate(45.2 165.4) rotate(-90) scale(1,1.07)">Rel. flux</text>
</g>
</svg>
</body></html>
